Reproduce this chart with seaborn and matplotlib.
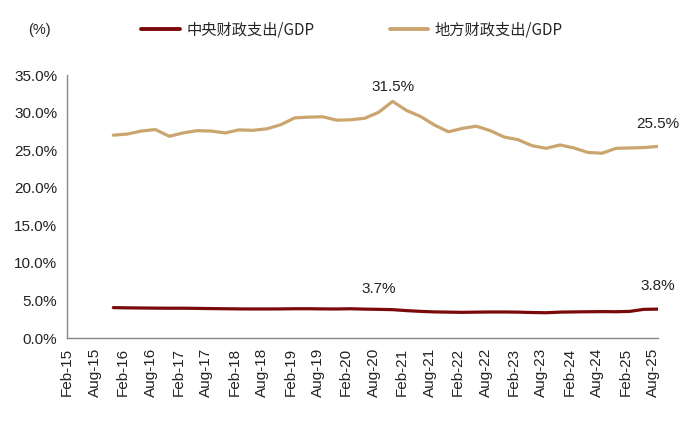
import matplotlib
matplotlib.use("Agg")
import matplotlib.pyplot as plt
import matplotlib.dates as mdates
import seaborn as sns
import pandas as pd
import numpy as np
from matplotlib.lines import Line2D

# quarterly observations, Dec-15 .. Sep-25
dates = pd.date_range("2015-12-01", "2025-09-01", freq="3MS")
local_exp = [27.0, 27.15, 27.55, 27.75, 26.85, 27.3, 27.6, 27.55, 27.3, 27.7,
             27.65, 27.85, 28.4, 29.3, 29.4, 29.45, 29.0, 29.05, 29.25, 30.05,
             31.5, 30.3, 29.5, 28.35, 27.45, 27.9, 28.2, 27.6, 26.75, 26.4,
             25.6, 25.25, 25.7, 25.3, 24.7, 24.6, 25.25, 25.3, 25.35, 25.5]
central_exp = [4.05, 4.02, 4.0, 3.98, 3.97, 3.97, 3.95, 3.92, 3.9, 3.88,
               3.87, 3.87, 3.88, 3.9, 3.9, 3.88, 3.87, 3.9, 3.85, 3.82,
               3.78, 3.65, 3.55, 3.48, 3.45, 3.42, 3.45, 3.47, 3.47, 3.45,
               3.4, 3.37, 3.45, 3.48, 3.5, 3.52, 3.5, 3.55, 3.82, 3.85]
series_names = ["中央财政支出/GDP", "地方财政支出/GDP"]
colors = ["#7A0A0A", "#CBA570"]
y_ticks = [0, 5, 10, 15, 20, 25, 30, 35]

df = pd.DataFrame({
    "date": list(dates) * 2,
    "value": central_exp + local_exp,
    "series": [series_names[0]] * len(dates) + [series_names[1]] * len(dates),
})

sns.set_style("white")
plt.rcParams["font.family"] = ["Liberation Sans", "Noto Sans CJK SC", "DejaVu Sans"]

fig = plt.figure(figsize=(7.0, 4.29), dpi=100)
ax = fig.add_axes([0.0957, 0.212, 0.845, 0.613])

sns.lineplot(data=df, x="date", y="value", hue="series", palette=colors,
             hue_order=series_names, linewidth=2.3, ax=ax, legend=False)

ax.set_xlim(pd.Timestamp("2015-02-01"), pd.Timestamp("2025-09-05"))
ax.set_ylim(0, 35)
ax.set_yticks(y_ticks)
ax.set_yticklabels([f"{v:.1f}%" for v in y_ticks], fontsize=11)
ax.xaxis.set_major_locator(mdates.MonthLocator(bymonth=[2, 8]))
ax.xaxis.set_major_formatter(mdates.DateFormatter("%b-%y"))
for lab in ax.get_xticklabels():
    lab.set_rotation(90)
    lab.set_fontsize(11)
ax.set_xlabel("")
ax.set_ylabel("")

for s in ["top", "right"]:
    ax.spines[s].set_visible(False)
for s in ["left", "bottom"]:
    ax.spines[s].set_color("#888888")
    ax.spines[s].set_linewidth(1.0)
ax.tick_params(axis="both", which="major", direction="out", length=4,
               color="#888888", width=1.0, labelcolor="#222222", pad=3)

# annotations
def note(i, vals, text, dy):
    ax.annotate(text, xy=(dates[i], vals[i]), xytext=(0, dy),
                textcoords="offset points", ha="center", va="center",
                fontsize=11, color="#222222")

note(20, local_exp, "31.5%", 10.5)
note(39, local_exp, "25.5%", 16)
note(19, central_exp, "3.7%", 15)
note(39, central_exp, "3.8%", 16.5)

# legend
handles = [Line2D([0], [0], color=c, lw=2.8) for c in colors]
fig.legend(handles, series_names, loc="center", bbox_to_anchor=(0.503, 0.93),
           ncol=2, frameon=False, handlelength=2.55,
           columnspacing=4.9, handletextpad=0.4,
           prop={"family": ["Noto Sans CJK SC", "DejaVu Sans"], "size": 11})
fig.text(0.04, 0.93, "(%)", ha="left", va="center", fontsize=10.5, color="#222222")

fig.savefig("out.png", dpi=100)
